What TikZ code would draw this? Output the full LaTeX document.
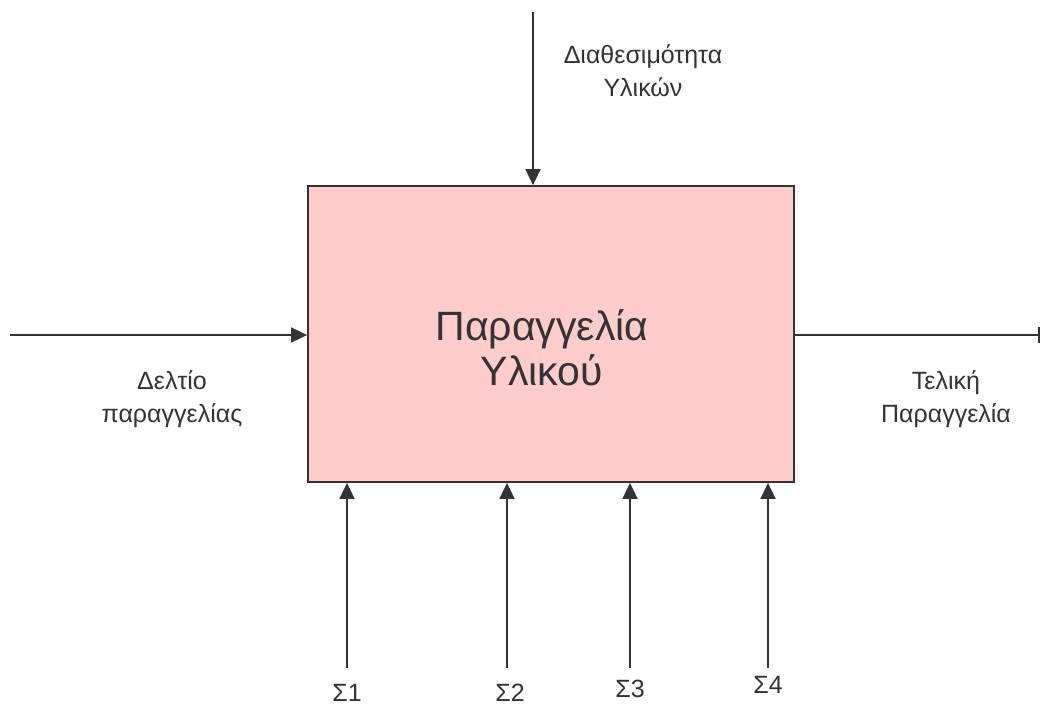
\documentclass[tikz,border=0pt]{standalone}
\usepackage{fontspec}
\setmainfont{Liberation Sans}
\usetikzlibrary{arrows.meta}
\definecolor{ink}{HTML}{333333}
\definecolor{boxfill}{HTML}{FFCCCC}
\tikzset{
  flow/.style={draw=ink, line width=1.8pt, -{Triangle[length=16pt,width=15pt]}},
  flowlabel/.style={text=ink, font=\fontsize{25}{33}\selectfont, align=center, inner sep=0pt},
  activity/.style={draw=ink, line width=1.8pt, fill=boxfill, minimum width=486pt,
    minimum height=296pt, inner sep=0pt},
  activitytext/.style={text=ink, font=\fontsize{41}{45}\selectfont, align=center, inner sep=0pt}
}
\begin{document}
\begin{tikzpicture}[x=1pt, y=-1pt]
  \useasboundingbox (0,0) rectangle (1041,706);
  % activity box
  \node[activity] (box) at (551,334) {};
  \node[activitytext] (title) at (542,348) {Παραγγελία\\Υλικού};
  % free ends of the flows
  \coordinate (in)  at (10,335);
  \coordinate (out) at (1040,335);
  \coordinate (top) at (533,12);
  \coordinate (s1) at (347,668);
  \coordinate (s2) at (507,668);
  \coordinate (s3) at (630,668);
  \coordinate (s4) at (768,668);
  % flows
  \draw[flow] (in) -- (in -| box.west);
  \draw[draw=ink, line width=1.8pt, -{Bar[width=16pt,line width=2.4pt]}] (out -| box.east) -- (out);
  \draw[flow] (top) -- (top |- box.north);
  \draw[flow] (s1) -- (s1 |- box.south);
  \draw[flow] (s2) -- (s2 |- box.south);
  \draw[flow] (s3) -- (s3 |- box.south);
  \draw[flow] (s4) -- (s4 |- box.south);
  % labels
  \node[flowlabel] (lmat) at (643,71) {Διαθεσιμότητα\\Υλικών};
  \node[flowlabel] (lin)  at (172,399) {Δελτίο\\παραγγελίας};
  \node[flowlabel] (lout) at (946,399) {Τελική\\Παραγγελία};
  \node[flowlabel] (l1) at (347,693) {Σ1};
  \node[flowlabel] (l2) at (510,693) {Σ2};
  \node[flowlabel] (l3) at (630,689) {Σ3};
  \node[flowlabel] (l4) at (768,685) {Σ4};
\end{tikzpicture}
\end{document}
